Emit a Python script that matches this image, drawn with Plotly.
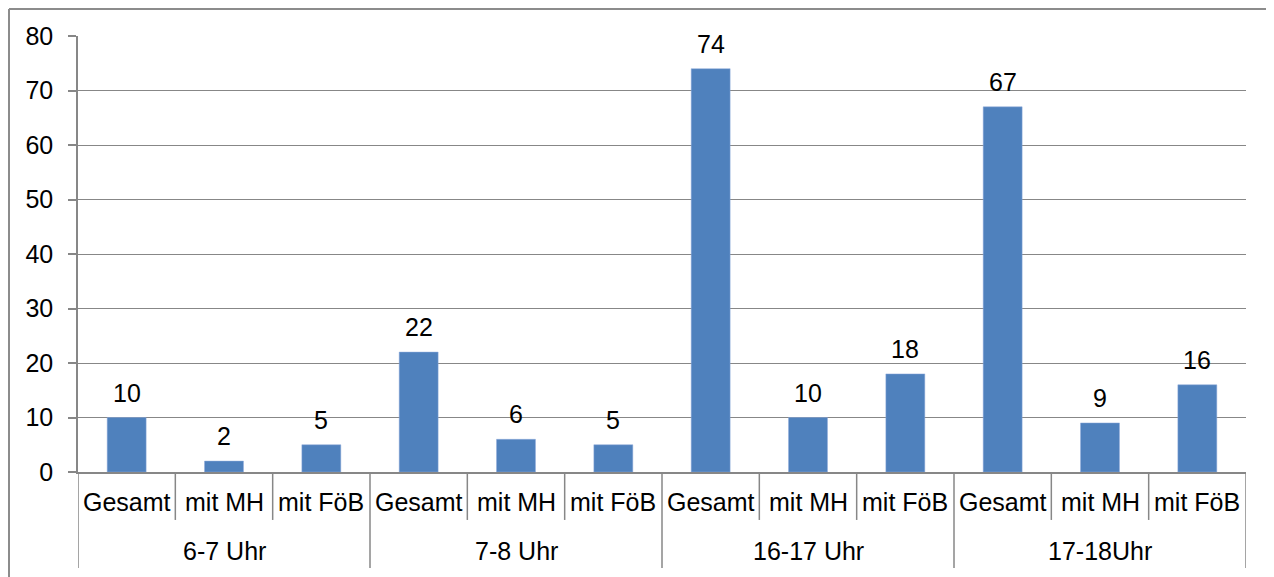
import plotly.graph_objects as go

groups = ["6-7 Uhr", "7-8 Uhr", "16-17 Uhr", "17-18Uhr"]
subcats = ["Gesamt", "mit MH", "mit FöB"]
values = [10, 2, 5, 22, 6, 5, 74, 10, 18, 67, 9, 16]
y_ticks = [0, 10, 20, 30, 40, 50, 60, 70, 80]

n = len(values)
xs = [i + 0.5 for i in range(n)]
grid_col = "#878787"
font_fam = "Liberation Sans, Arial, sans-serif"
fs = 25

fig = go.Figure()
fig.add_trace(go.Bar(
    x=xs, y=values, width=0.4,
    marker=dict(color="#4F81BD", line=dict(color="#8EAADB", width=0.5)),
    showlegend=False, hoverinfo="skip",
))

annotations = []
for x, v in zip(xs, values):
    annotations.append(dict(x=x, y=v, xref="x", yref="y", text=str(v), showarrow=False,
                            yanchor="bottom", yshift=9, font=dict(size=fs, color="black", family=font_fam)))

shapes = []
sub_bottom = -0.110
grp_bottom = -0.220
for i in range(n + 1):
    if i % 3 == 0:
        shapes.append(dict(type="line", xref="x", yref="paper", x0=i, x1=i, y0=0, y1=grp_bottom,
                           line=dict(color=grid_col, width=1.5)))
    else:
        shapes.append(dict(type="line", xref="x", yref="paper", x0=i, x1=i, y0=0, y1=sub_bottom,
                           line=dict(color=grid_col, width=1.5)))
for i in range(n):
    annotations.append(dict(x=i + 0.5, y=-0.069, xref="x", yref="paper", text=subcats[i % 3],
                            showarrow=False, yanchor="middle",
                            font=dict(size=fs, color="black", family=font_fam)))
for g, name in enumerate(groups):
    annotations.append(dict(x=g * 3 + 1.5, y=-0.182, xref="x", yref="paper", text=name,
                            showarrow=False, yanchor="middle",
                            font=dict(size=fs, color="black", family=font_fam)))

# chart border (left and top)
bx = (1 - 70) / 1168
by = (464 - 1) / 436
shapes.append(dict(type="line", xref="paper", yref="paper", x0=bx, x1=bx, y0=-0.3, y1=by,
                   line=dict(color="#8C8C8C", width=2)))
shapes.append(dict(type="line", xref="paper", yref="paper", x0=bx, x1=1.1, y0=by, y1=by,
                   line=dict(color="#8C8C8C", width=2)))

fig.update_layout(
    width=1266, height=569,
    margin=dict(l=70, r=28, t=28, b=105),
    paper_bgcolor="white", plot_bgcolor="white",
    font=dict(family=font_fam, size=fs, color="black"),
    xaxis=dict(range=[0, n], showticklabels=False, showgrid=False, zeroline=False,
               showline=True, linecolor=grid_col, linewidth=1.5, ticks=""),
    yaxis=dict(range=[0, 80], tickvals=y_ticks, showgrid=True, gridcolor=grid_col, gridwidth=1,
               zeroline=False, showline=True, linecolor=grid_col, linewidth=1.5,
               ticks="outside", ticklen=8, tickcolor=grid_col, tickwidth=1.5,
               tickfont=dict(size=fs, color="black"), ticklabelstandoff=10),
    shapes=shapes, annotations=annotations, bargap=0.6,
)

fig.write_html("out.html")
